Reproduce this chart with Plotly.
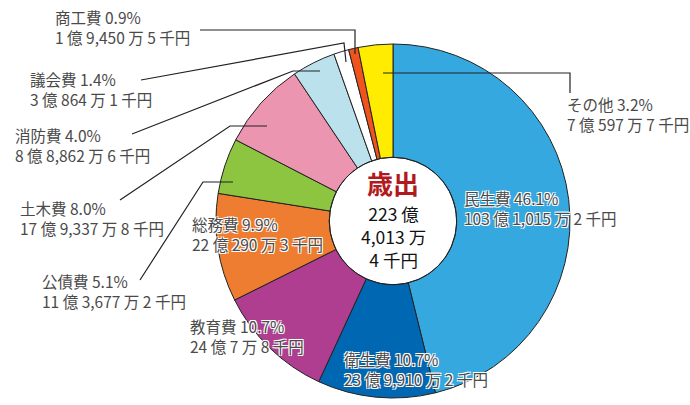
import plotly.graph_objects as go

# Data (千円)
categories = ['民生費', '衛生費', '教育費', '総務費', '公債費', '土木費', '消防費', '議会費', '商工費', 'その他']
amounts = [10310152, 2399102, 2400078, 2202903, 1136772, 1793378, 888626, 308641, 194505, 705977]
percents = ['46.1%', '10.7%', '10.7%', '9.9%', '5.1%', '8.0%', '4.0%', '1.4%', '0.9%', '3.2%']
amount_labels = ['103 億 1,015 万 2 千円', '23 億 9,910 万 2 千円', '24 億 7 万 8 千円',
                 '22 億 290 万 3 千円', '11 億 3,677 万 2 千円', '17 億 9,337 万 8 千円',
                 '8 億 8,862 万 6 千円', '3 億 864 万 1 千円', '1 億 9,450 万 5 千円',
                 '7 億 597 万 7 千円']
colors = ['#35A8E0', '#0068B3', '#AF3E91', '#EF7D31', '#8DC540',
          '#EC95B1', '#BAE1EC', '#FFFFFF', '#F0541E', '#FFEC00']
center_title = '歳出'
center_lines = ['223 億', '4,013 万', '4 千円']

W, H = 690, 405
CX, CY, R = 393, 221, 177
HOLE = 0.36

# label positions (px, left edge / first line centre)
label_pos = {
    '民生費': (462, 198), '衛生費': (342, 359), '教育費': (188, 326),
    '総務費': (190, 224), '公債費': (40, 281), '土木費': (18, 208),
    '消防費': (13, 135), '議会費': (28, 79), '商工費': (53, 17),
    'その他': (565, 104),
}
# leader lines (px)
leaders = [
    [(200, 30), (355, 30), (355, 54)],
    [(141, 80), (344, 43), (346, 62)],
    [(132, 134), (293, 71), (320, 71)],
    [(120, 200), (230, 126), (267, 126)],
    [(140, 280), (203, 182), (233, 182)],
    [(383, 73), (570, 73), (570, 93)],
]


def px(x):
    return x / W


def py(y):
    return 1 - y / H


fig = go.Figure()
fig.add_trace(go.Pie(
    labels=categories,
    values=amounts,
    sort=False,
    direction='clockwise',
    rotation=0,
    hole=HOLE,
    marker=dict(colors=colors, line=dict(color='#222222', width=1)),
    textinfo='none',
    hoverinfo='label+percent',
    domain=dict(x=[px(CX - R), px(CX + R)], y=[py(CY + R), py(CY - R)]),
    showlegend=False,
))

# hole outline
hr = R * HOLE
fig.add_shape(type='circle', xref='paper', yref='paper',
              x0=px(CX - hr), x1=px(CX + hr), y0=py(CY + hr), y1=py(CY - hr),
              line=dict(color='#222222', width=1))

for pts in leaders:
    path = 'M ' + ' L '.join(f'{px(x)},{py(y)}' for x, y in pts)
    fig.add_shape(type='path', path=path, xref='paper', yref='paper',
                  line=dict(color='#222222', width=1.2))

halo = '1px 1px 0 white, -1px -1px 0 white, 1px -1px 0 white, -1px 1px 0 white'
font_name = 'Noto Sans CJK JP'
for cat, pct, amt in zip(categories, percents, amount_labels):
    x, y = label_pos[cat]
    fig.add_annotation(
        x=px(x), y=py(y + 10), xref='paper', yref='paper',
        text=f'{cat} {pct}<br>{amt}', showarrow=False,
        xanchor='left', yanchor='middle', align='left',
        font=dict(family=font_name, size=15.5, color='#4a4a4a', shadow=halo),
    )

fig.add_annotation(x=px(CX), y=py(182), xref='paper', yref='paper',
                   text=f'<b>{center_title}</b>', showarrow=False,
                   font=dict(family=font_name, size=26, color='#B0191E'))
fig.add_annotation(x=px(CX), y=py(237), xref='paper', yref='paper',
                   text='<br>'.join(center_lines), showarrow=False,
                   font=dict(family=font_name, size=17.5, color='#111111'))

fig.update_layout(
    width=W, height=H,
    margin=dict(l=0, r=0, t=0, b=0),
    paper_bgcolor='white',
    plot_bgcolor='white',
)

fig.write_html('out.html', config={'displayModeBar': False},
               post_script="document.body.style.margin='0';")
